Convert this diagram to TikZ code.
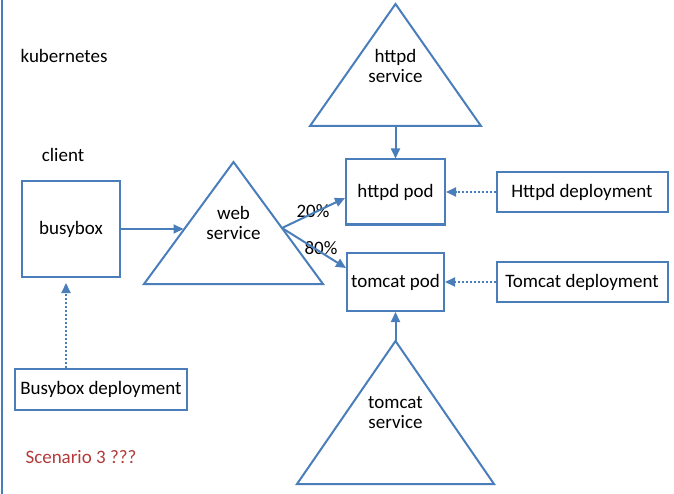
\documentclass[tikz,border=0pt]{standalone}
\usepackage{fontspec}
\setmainfont{Carlito}
\usetikzlibrary{arrows.meta}

\definecolor{kblue}{RGB}{74,126,187}
\definecolor{kred}{RGB}{178,58,58}

\tikzset{
  box/.style={draw=kblue, line width=2bp, inner sep=0pt, align=center},
  svc/.style={draw=kblue, line width=2bp, line join=miter},
  flow/.style={draw=kblue, line width=2bp, -{Triangle[length=10bp,width=9bp]}},
  feed/.style={flow, dotted, line width=2bp}
}

\begin{document}
\begin{tikzpicture}[x=1bp, y=-1bp, font=\fontsize{19bp}{20bp}\selectfont]
\useasboundingbox (0,0) rectangle (674,494);
\draw[kblue, line width=2bp] (2,0) -- (2,494);

% labels
\node (k8s) at (64,56) {kubernetes};
\node (client) at (63,155) {client};
\node[text=kred] (scen) at (81,457) {Scenario 3 ???};

% client side
\node[box, minimum width=98bp, minimum height=96bp] (busybox) at (71,229) {busybox};
\node[box, minimum width=172bp, minimum height=41bp] (bbdep) at (101,389.5) {Busybox deployment};

% services
\draw[svc] (233.5,162) coordinate (webtop) -- (323,284) -- (144,284) -- cycle;
\node[align=center] (web) at (233.5,223) {web\\service};
\draw[svc] (395.5,4) -- (481,126) -- (310,126) -- cycle;
\coordinate (hsvcbase) at (395.5,126);
\node[align=center] (hsvc) at (395.5,66) {httpd\\service};
\draw[svc] (395.5,341) coordinate (tsvctop) -- (494,484) -- (297,484) -- cycle;
\node[align=center] (tsvc) at (395.5,413) {tomcat\\service};
\coordinate (webin) at (183.5,229);
\coordinate (split) at (282,228);

% pods
\node[box, minimum width=99bp, minimum height=65bp] (hpod) at (395.5,192) {httpd pod};
\node[box, minimum width=97bp, minimum height=58bp] (tpod) at (395.5,282) {tomcat pod};

% deployments
\node[box, minimum width=171bp, minimum height=40bp] (hdep) at (582,192) {Httpd deployment};
\node[box, minimum width=171bp, minimum height=40bp] (tdep) at (582,282) {Tomcat deployment};

\node (p20) at (313,211) {20\%};
\node (p80) at (321,248) {80\%};

% connectors
\draw[flow] (busybox.east) -- (webin);
\draw[feed, shorten >=5bp] (bbdep.north -| 66,0) -- (busybox.south -| 66,0);
\draw[flow] (split) -- ([yshift=-6bp]hpod.west);
\draw[flow] (split) -- ([yshift=14bp]tpod.west);
\draw[flow] (hsvcbase) -- (hpod.north);
\draw[flow] (tsvctop) -- (tpod.south);
\draw[feed] (hdep) -- (hpod);
\draw[feed] (tdep) -- (tpod);
\end{tikzpicture}
\end{document}
